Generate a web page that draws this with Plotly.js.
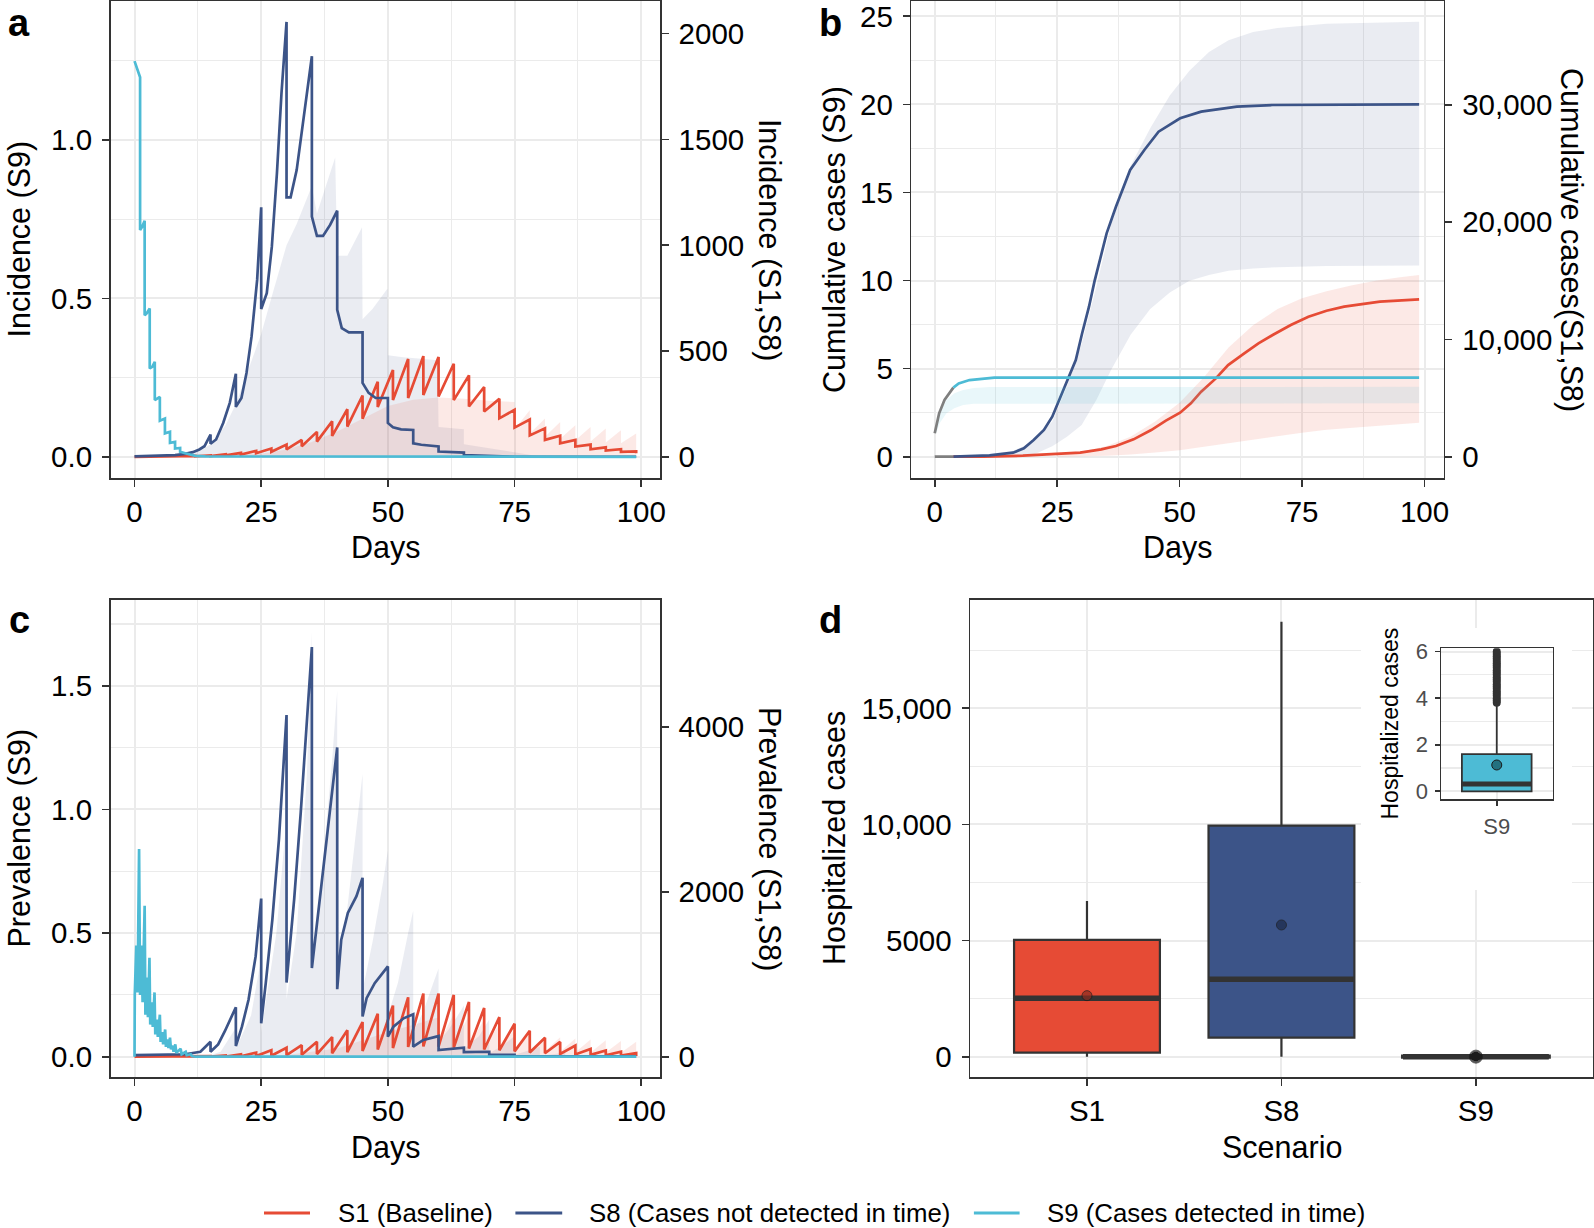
<!DOCTYPE html>
<html><head><meta charset="utf-8">
<script src="https://cdn.plot.ly/plotly-3.0.1.min.js"></script>
<style>html,body{margin:0;padding:0;background:#fff;} #chart{width:1594px;height:1228px;}</style>
</head><body><div id="chart"></div>
<script>
// ---------------- DATA ----------------
// Panel a: incidence
const s1_day = [0, 3,3, 6,6, 9,9, 12,12, 15,15, 18,18, 21,21, 24,24, 27,27, 30,30, 33,33, 36,36, 39,39, 42,42, 45,45, 48,48, 51,51, 54,54, 57,57, 60,60, 63,63, 66,66, 69,69, 72,72, 75,75, 78,78, 81,81, 84,84, 87,87, 90,90, 93,93, 96,96, 99,99];
const a_s1_inc = [0, 0.5,0.3, 1,0.6, 2,1, 4,2, 7,4, 12,7, 19,11, 28,17, 39,24, 58,35, 80,50, 118,72, 168,99, 225,143, 290,180, 355,235, 410,268, 462,278, 476,292, 472,285, 440,268, 385,238, 330,214, 274,182, 222,138, 176,101, 135,80, 100,64, 80,49, 58,36, 45,30, 36,24, 26,17];
const a_s8_day = [0, 5, 8, 10, 11.5, 12.8, 13.8, 15, 15, 16.1, 17.5, 18.8, 20, 20, 21.1, 22.1, 23.1, 24.2, 25, 25, 26.1, 27.1, 28.1, 29, 30, 30, 30.8, 32, 33.3, 35, 35, 36, 37.2, 38.6, 40, 40, 40.9, 42.3, 45, 45, 46.2, 47.6, 50, 50, 51, 52.6, 55, 55, 56.6, 60, 60, 63.2, 65, 65, 70, 70, 75, 75, 99];
const a_s8_inc = [2, 4, 8, 14, 22, 35, 50, 105, 62, 82, 160, 255, 393, 236, 278, 396, 569, 836, 1179, 698, 773, 993, 1339, 1717, 2055, 1226, 1226, 1355, 1591, 1893, 1135, 1044, 1044, 1096, 1163, 695, 608, 588, 588, 349, 302, 278, 278, 160, 140, 130, 127, 64, 57, 49, 25, 22, 20, 8, 5, 3, 1.5, 0.5, 0.3];
const a_s9_day = [0, 1.1, 1.1, 1.5, 2, 2, 2.4, 3, 3, 3.5, 4, 4, 5, 5, 6, 6, 7, 7, 8, 8, 9, 9, 10, 11, 12, 14, 99];
const a_s9_inc = [1.249, 1.198, 0.716, 0.726, 0.745, 0.447, 0.453, 0.468, 0.279, 0.284, 0.300, 0.179, 0.189, 0.114, 0.121, 0.074, 0.079, 0.044, 0.047, 0.026, 0.028, 0.016, 0.011, 0.007, 0.003, 0.001, 0];
const a_s8_band_day = [10, 13, 15, 18, 20, 22, 25, 27, 30, 32, 35, 36, 38, 39.6, 40, 42, 44.9, 45, 47, 49.9, 50, 53, 56, 59.8, 60, 65, 65, 70, 75, 80];
const a_s8_band_hi = [5, 30, 60, 150, 250, 380, 580, 750, 1000, 1100, 1280, 1150, 1300, 1415, 950, 950, 1085, 650, 700, 794, 480, 470, 465, 456, 141, 130, 60, 40, 20, 2];
const a_s1_band_day = [10, 20, 25, 30, 35, 40, 45, 50, 55, 60, 65, 70, 75, 75, 78, 78, 81, 81, 84, 84, 87, 87, 90, 90, 93, 93, 96, 96, 99];
const a_s1_band_hi = [1, 8, 15, 35, 70, 120, 180, 240, 270, 280, 275, 265, 259, 130, 220, 110, 181, 95, 165, 85, 149, 78, 141, 72, 134, 68, 126, 64, 110];

// Panel b: cumulative cases
const b_s1_day = [3.8, 10, 18, 25.3, 29.7, 34, 37, 40.6, 44.2, 47.2, 50.1, 52.3, 54.4, 57.4, 59.9, 63.2, 66.1, 69, 72.7, 76.3, 80, 83.6, 87.2, 90.9, 94.5, 98.9];
const b_s1_cum = [0, 0, 85, 230, 341, 625, 909, 1478, 2274, 3070, 3752, 4547, 5541, 6677, 7814, 8809, 9662, 10372, 11225, 11936, 12447, 12788, 13015, 13214, 13299, 13413];
const b_s8_day = [3.8, 11.2, 16.0, 18.2, 20.2, 22.3, 24.0, 25.7, 27.4, 28.8, 30.1, 31.5, 32.6, 33.8, 35.1, 37.0, 39.9, 42.8, 45.7, 50.1, 54.4, 61.7, 69, 98.9];
const b_s8_cum = [0, 119, 341, 716, 1423, 2276, 3410, 5115, 6683, 8244, 10520, 12788, 14900, 17000, 19045, 21313, 24442, 26147, 27707, 28849, 29417, 29839, 29983, 30043];
const b_s9_day = [3.8, 4.9, 7.1, 10, 12.2, 98.9];
const b_s9_cum = [3.92, 4.16, 4.35, 4.45, 4.49, 4.49];
const b_early_day = [0, 0.9, 2.0, 3.1, 3.8];
const b_early_s9_cum = [1.33, 2.46, 3.22, 3.69, 3.92];
const b_early_s1s8_cum = [0, 0, 0, 0, 0];
const b_s8_band_day = [11, 16, 20, 24, 27, 30, 33, 36, 40, 44, 48, 52, 56, 60, 65, 70, 80, 90, 98.9];
const b_s8_band_hi = [200, 500, 1200, 3000, 6000, 9600, 14500, 19800, 24800, 28000, 30800, 32900, 34500, 35500, 36200, 36550, 36900, 37020, 37084];
const b_s8_band_lo = [0, 0, 150, 900, 1700, 2700, 4834, 7400, 10400, 12600, 14000, 15000, 15500, 15850, 16050, 16150, 16250, 16280, 16300];
const b_s1_band_day = [25, 30, 35, 40, 45, 50, 55, 60, 65, 70, 75, 80, 85, 90, 95, 98.9];
const b_s1_band_hi = [250, 450, 900, 1700, 3000, 4600, 6800, 9300, 11200, 12600, 13500, 14100, 14600, 15000, 15300, 15490];
const b_s1_band_lo = [0, 30, 80, 180, 350, 550, 800, 1100, 1450, 1750, 2050, 2300, 2500, 2650, 2780, 2900];
const b_s9_band_day = [0.3, 1, 2.4, 4, 5.8, 8, 11.3, 98.9];
const b_s9_band_hi = [1.6, 2.5, 3.22, 3.6, 3.79, 3.9, 3.95, 3.97];
const b_s9_band_lo = [1.3, 1.9, 2.46, 2.75, 2.93, 3.0, 3.03, 3.03];

// Panel c: prevalence
const c_s1_prev = [0, 0.5,0, 1,0.2, 2,0.5, 4,1, 8,2, 15,3, 28,5, 50,8, 80,12, 108,18, 140,24, 182,32, 238,42, 320,55, 420,70, 520,88, 620,105, 720,118, 766,125, 766,122, 750,110, 665,100, 590,88, 480,78, 400,65, 315,52, 230,42, 180,34, 135,28, 95,22, 75,18, 60,14, 45,10];
const c_s8_day = [0, 5, 10, 13, 15, 15, 16.5, 17.8, 18.8, 20, 20, 21.2, 22.5, 23.9, 25, 25, 25.9, 27.2, 28.5, 30, 30, 31.5, 32.8, 35, 35, 40, 40, 40.8, 42.1, 43.8, 45, 45, 45.8, 47.4, 50, 50, 51.1, 53.1, 55, 55, 57, 60, 60, 62.5, 65, 65, 70, 70, 75, 75, 99];
const c_s8_prev = [20, 25, 30, 60, 181, 60, 150, 306, 440, 600, 130, 365, 690, 1217, 1918, 406, 892, 1663, 2636, 4145, 900, 1906, 2961, 4969, 1075, 3752, 819, 1420, 1744, 1947, 2170, 487, 710, 892, 1095, 243, 365, 466, 515, 122, 203, 250, 80, 95, 110, 55, 60, 25, 22, 8, 5];
const c_s9_day = [0, 0.05, 0.35, 0.6, 0.9, 1.1, 1.35, 1.6, 2.0, 2.15, 2.4, 2.65, 2.95, 3.1, 3.4, 3.6, 3.95, 4.1, 4.4, 4.6, 5.0, 5.15, 5.45, 5.65, 6.05, 6.2, 6.5, 6.7, 7.0, 7.2, 7.5, 7.7, 8.05, 8.25, 9.1, 9.3, 10.1, 10.3, 11.1, 11.3, 12, 99];
const c_s9_prev = [0, 0.25, 0.45, 0.26, 0.84, 0.25, 0.45, 0.22, 0.61, 0.17, 0.32, 0.16, 0.40, 0.13, 0.22, 0.12, 0.26, 0.09, 0.15, 0.08, 0.17, 0.06, 0.10, 0.05, 0.11, 0.04, 0.07, 0.035, 0.077, 0.03, 0.045, 0.02, 0.05, 0.016, 0.032, 0.01, 0.02, 0.006, 0.01, 0.003, 0, 0];
const c_s8_band_day = [14, 17, 20, 20, 23, 25, 25, 28, 30, 30, 32, 34, 35, 35, 37, 39, 40, 40, 42, 44, 45, 45, 47, 49, 50, 50, 52, 54, 55, 55, 57, 59, 60, 60, 62, 64, 65, 65, 68, 70, 70, 73, 75, 75, 80, 80, 85, 85];
const c_s8_band_hi = [0, 60, 350, 100, 500, 1200, 300, 1500, 2900, 700, 1500, 3400, 5150, 1200, 2200, 3600, 4440, 1000, 1800, 2900, 3430, 800, 1400, 2100, 2500, 500, 900, 1500, 1770, 300, 550, 900, 1070, 180, 330, 520, 620, 90, 250, 450, 40, 150, 250, 20, 120, 10, 50, 0];
const c_s1_band_day = [20, 30, 40, 50, 57, 60, 60, 63, 63, 66, 66, 69, 69, 72, 72, 75, 75, 78, 78, 81, 81, 84, 84, 87, 87, 90, 90, 93, 93, 96, 96, 99];
const c_s1_band_hi = [0, 20, 100, 300, 420, 480, 150, 520, 150, 500, 140, 450, 120, 390, 100, 330, 85, 280, 75, 250, 65, 235, 60, 220, 55, 210, 52, 200, 50, 190, 48, 182];

// Panel d: hospitalized cases
const d_cat = ['S1', 'S8', 'S9'];
const d_q1 = [172, 818, 0];
const d_median = [2514, 3332, 0.31];
const d_q3 = [5024, 9945, 1.60];
const d_lower = [0, 0, 0];
const d_upper = [6703, 18728, 3.70];
const d_mean = [2626, 5670, 1.13];
const s9_outliers = [3.8, 3.9, 4.0, 4.1, 4.2, 4.3, 4.4, 4.5, 4.6, 4.7, 4.8, 4.9, 5.0, 5.1, 5.2, 5.3, 5.4, 5.5, 5.6, 5.7, 5.8, 5.9, 6.0];

// Labels
const legend_names = ['S1 (Baseline)', 'S8 (Cases not detected in time)', 'S9 (Cases detected in time)'];

// ---------------- STYLE ----------------
const FONT = 'Liberation Sans, Arial, Helvetica, sans-serif';
const RED = '#E64B35', BLUE = '#3C5488', CYAN = '#4DBBD5', GREY = '#7F7F7F';
const RED_BAND = 'rgba(230,75,53,0.12)', BLUE_BAND = 'rgba(60,84,136,0.11)', CYAN_BAND = 'rgba(77,187,213,0.12)';
const GRID = '#EBEBEB', AX = '#333333';
const W = 1594, H = 1228;
const LW = 2.7;

function dx(a, b) { return [a / W, b / W]; }
function dy(top, bot) { return [1 - bot / H, 1 - top / H]; }
const PA = { x: [110.7, 660], y: [1, 478] };
const PB = { x: [911.4, 1443.6], y: [1, 478] };
const PC = { x: [110.7, 660], y: [600, 1077] };
const PD = { x: [970.3, 1592.6], y: [600, 1077] };
const PI = { x: [1441, 1552.5], y: [648.3, 799] };

function ax(extra) {
  return Object.assign({
    showline: true, linecolor: AX, linewidth: 1.7,
    ticks: 'outside', ticklen: 7, tickwidth: 1.7, tickcolor: AX,
    tickfont: { size: 29.5, color: '#000', family: FONT },
    ticklabeloverflow: 'allow',
    showgrid: false, zeroline: false, automargin: false, fixedrange: true
  }, extra);
}
function grid(minorVals) {
  return { showgrid: true, gridcolor: GRID, gridwidth: 2,
    minor: { tickvals: minorVals, showgrid: true, gridcolor: GRID, gridwidth: 1.1, ticks: '' } };
}
function line(x, y, color, xa, ya, extra) {
  return Object.assign({ type: 'scatter', mode: 'lines', x: x, y: y, xaxis: xa, yaxis: ya,
    line: { color: color, width: LW }, hoverinfo: 'skip', showlegend: false }, extra || {});
}
function bandZero(x, y, color, xa, ya) {
  return { type: 'scatter', mode: 'lines', x: x, y: y, xaxis: xa, yaxis: ya, fill: 'tozeroy',
    fillcolor: color, line: { width: 0, color: color }, hoverinfo: 'skip', showlegend: false };
}
function bandPoly(x, hi, lo, color, xa, ya) {
  return { type: 'scatter', mode: 'lines', x: x.concat(x.slice().reverse()),
    y: hi.concat(lo.slice().reverse()), xaxis: xa, yaxis: ya, fill: 'toself',
    fillcolor: color, line: { width: 0, color: color }, hoverinfo: 'skip', showlegend: false };
}

const traces = [];
// Panel a
traces.push(bandZero(a_s8_band_day, a_s8_band_hi, BLUE_BAND, 'x', 'y'));
traces.push(bandZero(a_s1_band_day, a_s1_band_hi, RED_BAND, 'x', 'y'));
traces.push(line(s1_day, a_s1_inc, RED, 'x', 'y', { name: legend_names[0] }));
traces.push(line(a_s8_day, a_s8_inc, BLUE, 'x', 'y', { name: legend_names[1] }));
traces.push(line(a_s9_day, a_s9_inc, CYAN, 'x', 'y2', { name: legend_names[2] }));
// Panel b
traces.push(bandPoly(b_s8_band_day, b_s8_band_hi, b_s8_band_lo, BLUE_BAND, 'x2', 'y3'));
traces.push(bandPoly(b_s1_band_day, b_s1_band_hi, b_s1_band_lo, RED_BAND, 'x2', 'y3'));
traces.push(line(b_early_day, b_early_s1s8_cum, GREY, 'x2', 'y3'));
traces.push(line(b_s1_day, b_s1_cum, RED, 'x2', 'y3'));
traces.push(line(b_s8_day, b_s8_cum, BLUE, 'x2', 'y3'));
traces.push(bandPoly(b_s9_band_day, b_s9_band_hi, b_s9_band_lo, CYAN_BAND, 'x2', 'y4'));
traces.push(line(b_early_day, b_early_s9_cum, GREY, 'x2', 'y4'));
traces.push(line(b_s9_day, b_s9_cum, CYAN, 'x2', 'y4'));
// Panel c
traces.push(bandZero(c_s8_band_day, c_s8_band_hi, BLUE_BAND, 'x3', 'y5'));
traces.push(bandZero(c_s1_band_day, c_s1_band_hi, RED_BAND, 'x3', 'y5'));
traces.push(line(s1_day, c_s1_prev, RED, 'x3', 'y5'));
traces.push(line(c_s8_day, c_s8_prev, BLUE, 'x3', 'y5'));
traces.push(line(c_s9_day, c_s9_prev, CYAN, 'x3', 'y6'));
// Panel d boxes
const boxFill = [RED, BLUE, CYAN];
d_cat.forEach(function (c, i) {
  traces.push({ type: 'box', x: [c], q1: [d_q1[i]], median: [d_median[i]], q3: [d_q3[i]],
    lowerfence: [d_lower[i]], upperfence: [d_upper[i]], fillcolor: boxFill[i],
    line: { color: AX, width: i === 2 ? 4 : 2.2 }, whiskerwidth: 0, width: 0.75,
    boxpoints: false, xaxis: 'x4', yaxis: 'y7', hoverinfo: 'skip', showlegend: false });
});
const medX = [], medY = [];
d_cat.forEach(function (c, i) { medX.push(i - 0.375, i + 0.375, null); medY.push(d_median[i], d_median[i], null); });
traces.push({ type: 'scatter', mode: 'lines', x: medX, y: medY, xaxis: 'x6', yaxis: 'y7',
  line: { color: AX, width: 5.5 }, hoverinfo: 'skip', showlegend: false });
traces.push({ type: 'scatter', mode: 'markers', x: s9_outliers.map(function () { return d_cat.indexOf('S9'); }), y: s9_outliers,
  xaxis: 'x6', yaxis: 'y7', marker: { color: AX, size: 8 }, hoverinfo: 'skip', showlegend: false });
traces.push({ type: 'scatter', mode: 'markers', x: d_cat.map(function (c, i) { return i; }), y: d_mean,
  xaxis: 'x6', yaxis: 'y7', marker: { color: ['#8A2B1F', '#1C2A4A', '#111111'], size: [10, 10, 13],
  line: { color: '#1a1a1a', width: 1 } }, hoverinfo: 'skip', showlegend: false });
// Inset (S9)
const k = d_cat.indexOf('S9');
traces.push({ type: 'box', x: [d_cat[k]], q1: [d_q1[k]], median: [d_median[k]], q3: [d_q3[k]],
  lowerfence: [d_lower[k]], upperfence: [d_upper[k]], fillcolor: CYAN,
  line: { color: AX, width: 1.8 }, whiskerwidth: 0, width: 0.75, boxpoints: false,
  xaxis: 'x5', yaxis: 'y8', hoverinfo: 'skip', showlegend: false });
traces.push({ type: 'scatter', mode: 'lines', x: [-0.375, 0.375], y: [d_median[k], d_median[k]],
  xaxis: 'x7', yaxis: 'y8', line: { color: AX, width: 5 }, hoverinfo: 'skip', showlegend: false });
traces.push({ type: 'scatter', mode: 'markers', x: s9_outliers.map(function () { return 0; }), y: s9_outliers,
  xaxis: 'x7', yaxis: 'y8', marker: { color: AX, size: 8 }, hoverinfo: 'skip', showlegend: false });
traces.push({ type: 'scatter', mode: 'markers', x: [0], y: [d_mean[k]], xaxis: 'x7', yaxis: 'y8',
  marker: { color: '#23707F', size: 10, line: { color: '#1a1a1a', width: 1 } }, hoverinfo: 'skip', showlegend: false });

// ---------------- LAYOUT ----------------
const xDays = { tickvals: [0, 25, 50, 75, 100], ticktext: ['0', '25', '50', '75', '100'] };
const YS = 4; // extra tick-label standoff on y axes
const layout = {
  width: W, height: H, margin: { l: 0, r: 0, t: 0, b: 0 },
  paper_bgcolor: '#fff', plot_bgcolor: '#fff',
  font: { family: FONT, color: '#000' },
  showlegend: false,
  // a
  xaxis: ax(Object.assign({ domain: dx(PA.x[0], PA.x[1]), anchor: 'y', range: [-4.7, 103.7], mirror: true }, xDays, grid([12.5, 37.5, 62.5, 87.5]))),
  yaxis: ax({ domain: dy(PA.y[0], PA.y[1]), anchor: 'x', side: 'right', range: [-100, 2154], ticklabelstandoff: YS,
    tickvals: [0, 500, 1000, 1500, 2000], ticktext: ['0', '500', '1000', '1500', '2000'] }),
  yaxis2: ax(Object.assign({ overlaying: 'y', anchor: 'x', side: 'left', range: [-0.067, 1.439], ticklabelstandoff: YS,
    tickvals: [0, 0.5, 1.0], ticktext: ['0.0', '0.5', '1.0'] }, grid([0.25, 0.75, 1.25]))),
  // b
  xaxis2: ax(Object.assign({ domain: dx(PB.x[0], PB.x[1]), anchor: 'y3', range: [-4.76, 103.9], mirror: true }, xDays, grid([12.5, 37.5, 62.5, 87.5]))),
  yaxis3: ax({ domain: dy(PB.y[0], PB.y[1]), anchor: 'x2', side: 'right', range: [-1816, 38849], ticklabelstandoff: YS,
    tickvals: [0, 10000, 20000, 30000], ticktext: ['0', '10,000', '20,000', '30,000'] }),
  yaxis4: ax(Object.assign({ overlaying: 'y3', anchor: 'x2', side: 'left', range: [-1.21, 25.87], ticklabelstandoff: YS,
    tickvals: [0, 5, 10, 15, 20, 25], ticktext: ['0', '5', '10', '15', '20', '25'] }, grid([2.5, 7.5, 12.5, 17.5, 22.5]))),
  // c
  xaxis3: ax(Object.assign({ domain: dx(PC.x[0], PC.x[1]), anchor: 'y5', range: [-4.7, 103.7], mirror: true }, xDays, grid([12.5, 37.5, 62.5, 87.5]))),
  yaxis5: ax({ domain: dy(PC.y[0], PC.y[1]), anchor: 'x3', side: 'right', range: [-246, 5540], ticklabelstandoff: YS,
    tickvals: [0, 2000, 4000], ticktext: ['0', '2000', '4000'] }),
  yaxis6: ax(Object.assign({ overlaying: 'y5', anchor: 'x3', side: 'left', range: [-0.082, 1.847], ticklabelstandoff: YS,
    tickvals: [0, 0.5, 1.0, 1.5], ticktext: ['0.0', '0.5', '1.0', '1.5'] }, grid([0.25, 0.75, 1.25, 1.75]))),
  // d
  xaxis4: ax({ domain: dx(PD.x[0], PD.x[1]), anchor: 'y7', type: 'category', categoryorder: 'array', categoryarray: d_cat,
    range: [-0.6, 2.6], mirror: true, showgrid: true, gridcolor: GRID, gridwidth: 2 }),
  yaxis7: ax(Object.assign({ domain: dy(PD.y[0], PD.y[1]), anchor: 'x4', range: [-876, 19662], mirror: true, ticklabelstandoff: YS,
    tickvals: [0, 5000, 10000, 15000], ticktext: ['0', '5000', '10,000', '15,000'] }, grid([2500, 7500, 12500, 17500]))),
  xaxis6: { overlaying: 'x4', anchor: 'y7', type: 'linear', range: [-0.6, 2.6], visible: false, fixedrange: true },
  // inset
  xaxis5: ax({ domain: dx(PI.x[0], PI.x[1]), anchor: 'y8', type: 'category', range: [-0.6, 0.6], mirror: true,
    showgrid: true, gridcolor: GRID, gridwidth: 1.5, ticklen: 5, linewidth: 1.5, ticklabelstandoff: 2,
    tickfont: { size: 22, color: '#4D4D4D', family: FONT } }),
  yaxis8: ax(Object.assign({ domain: dy(PI.y[0], PI.y[1]), anchor: 'x5', range: [-0.33, 6.14], mirror: true,
    tickvals: [0, 2, 4, 6], ticktext: ['0', '2', '4', '6'], ticklen: 5, linewidth: 1.5, ticklabelstandoff: 2,
    tickfont: { size: 22, color: '#4D4D4D', family: FONT } }, grid([1, 3, 5]))),
  xaxis7: { overlaying: 'x5', anchor: 'y8', type: 'linear', range: [-0.6, 0.6], visible: false, fixedrange: true },
  shapes: [
    // white backdrop of the inset inside panel d (hides main grid lines)
    { type: 'rect', xref: 'x4', yref: 'y7', x0: 1.409, x1: 2.494, y0: 7175, y1: 18456,
      fillcolor: '#fff', line: { width: 0 }, layer: 'between' }
  ],
  annotations: []
};

function ann(text, px, py, opts) {
  layout.annotations.push(Object.assign({ text: text, x: px / W, y: 1 - py / H, xref: 'paper', yref: 'paper',
    showarrow: false, xanchor: 'center', yanchor: 'middle',
    font: { size: 30.5, family: FONT, color: '#000' } }, opts || {}));
}
// panel letters
const LET = { size: 38, family: FONT, color: '#000' };
ann('<b>a</b>', 19, 23, { font: LET, borderpad: 0 });
ann('<b>b</b>', 830.6, 23, { font: LET, borderpad: 0 });
ann('<b>c</b>', 19, 620, { font: LET, borderpad: 0 });
ann('<b>d</b>', 830.6, 620, { font: LET, borderpad: 0 });
// axis titles
ann('Incidence (S9)', 19, 239.5, { textangle: -90 });
ann('Incidence (S1,S8)', 769.6, 239.5, { textangle: 90 });
ann('Days', 386, 547.5);
ann('Cumulative cases (S9)', 834.5, 239.5, { textangle: -90 });
ann('Cumulative cases(S1,S8)', 1571.5, 239.5, { textangle: 90 });
ann('Days', 1177.5, 547.5);
ann('Prevalence (S9)', 19, 838.5, { textangle: -90 });
ann('Prevalence (S1,S8)', 769.6, 838.5, { textangle: 90 });
ann('Days', 386, 1147);
ann('Hospitalized cases', 834.5, 838.5, { textangle: -90 });
ann('Scenario', 1281.5, 1147);
ann('Hospitalized cases', 1389, 723.5, { textangle: -90, font: { size: 23, family: FONT, color: '#000' } });

// legend (drawn as key lines + labels)
const LEG_Y = 1 - 1213 / H;
const legColors = [RED, BLUE, CYAN];
const legLineX = [[264, 310], [515.4, 562.2], [973.9, 1019.6]];
const legTextX = [335.5, 586.6, 1045];
legend_names.forEach(function (nm, i) {
  layout.shapes.push({ type: 'line', xref: 'paper', yref: 'paper', x0: legLineX[i][0] / W, x1: legLineX[i][1] / W,
    y0: LEG_Y, y1: LEG_Y, line: { color: legColors[i], width: 3 } });
  layout.annotations.push({ text: nm, x: legTextX[i] / W, y: LEG_Y, xref: 'paper', yref: 'paper', showarrow: false,
    xanchor: 'left', yanchor: 'middle', font: { size: 25.8, family: FONT, color: '#000' } });
});

Plotly.newPlot('chart', traces, layout, { staticPlot: true, displayModeBar: false });
</script></body></html>
